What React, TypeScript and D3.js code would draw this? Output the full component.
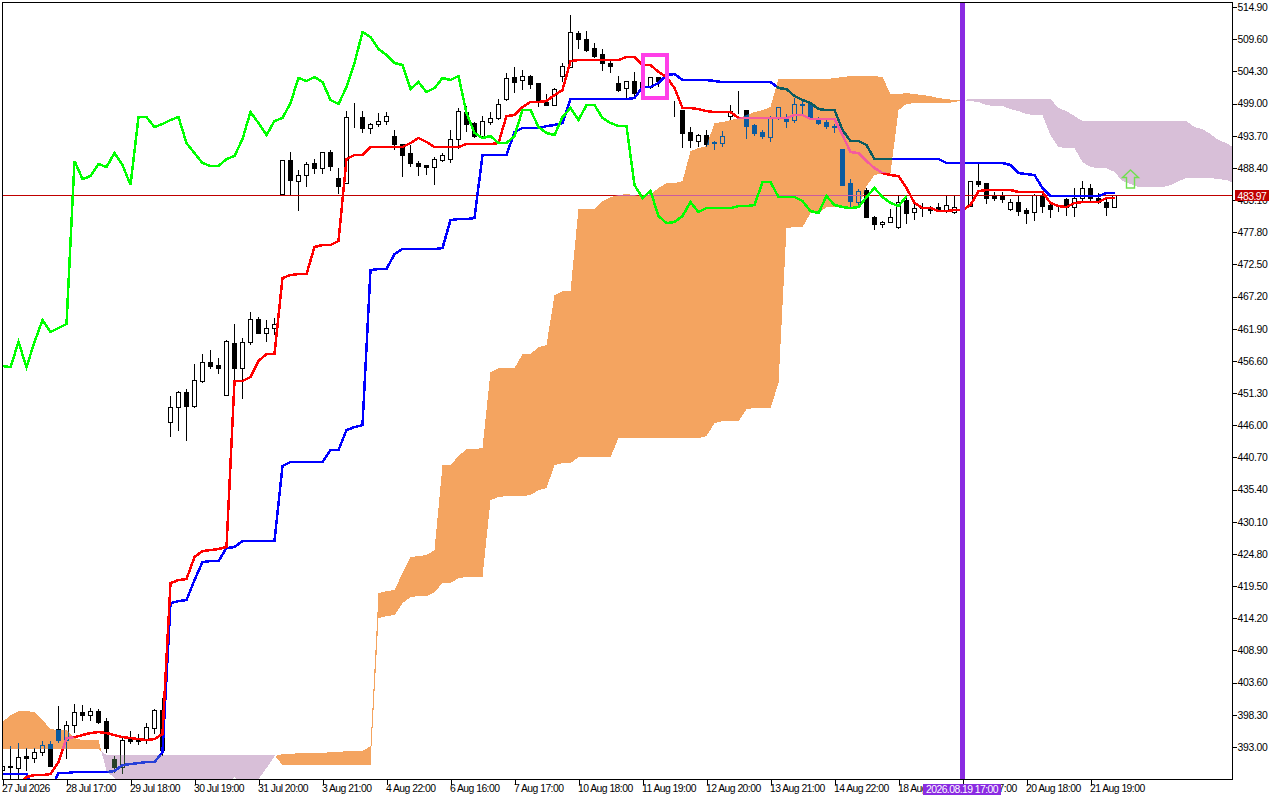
import { useEffect, useRef } from "react";
import * as d3 from "d3";

const opens = [
  389.2,389.86,389.53,391.5,391.18,392.17,393.48,395.95,394.14,396.61,
  398.76,398.26,398.92,397.27,391.01,389.69,394.31,394.31,394.31,396.12,
  399.09,446.53,449.0,451.47,449.17,453.28,456.41,455.92,450.98,459.54,
  455.43,459.71,463.5,461.19,462.01,484.09,489.69,486.23,487.22,489.2,
  488.37,491.01,486.72,485.9,496.75,496.77,494.96,495.62,496.12,493.65,
  492.33,490.84,489.2,488.87,488.54,489.69,489.86,493.15,497.6,495.79,
  493.65,495.95,496.61,499.74,503.36,502.87,503.53,502.38,499.25,498.75,
  503.53,505.01,510.61,509.63,508.14,507.15,505.67,502.38,501.55,502.71,
  501.5,501.72,503.36,503.5,497.6,497.93,494.3,492.82,493.81,492.66,
  492.49,496.94,497.76,497.93,495.46,494.3,493.48,496.61,496.61,496.28,
  498.92,498.92,496.61,495.95,495.29,491.5,485.9,482.77,484.75,480.3,
  479.15,479.48,478.65,483.1,481.12,481.95,481.78,481.95,481.45,481.12,
  481.1,482.11,486.23,485.9,483.76,483.92,481.62,482.77,481.45,481.12,
  483.76,482.28,481.76,483.27,481.95,483.43,485.08,483.43,482.77,481.95,
];
const closes = [
  389.86,389.69,391.34,391.18,392.17,393.32,389.86,394.14,396.61,398.76,
  398.26,398.92,397.11,392.82,389.69,394.14,393.98,393.98,396.28,399.09,
  392.49,449.0,451.47,449.17,453.45,456.41,455.75,455.43,459.87,455.43,
  459.71,463.5,461.19,462.01,462.67,489.69,486.4,487.22,489.03,488.37,
  491.01,488.7,485.41,496.77,496.77,494.96,495.62,496.12,496.94,492.33,
  490.51,489.2,488.7,488.54,489.86,490.51,493.15,497.76,495.62,493.65,
  496.12,496.61,498.92,503.2,502.54,503.53,502.21,499.25,498.75,501.39,
  505.18,510.78,509.63,507.81,506.82,505.67,505.18,501.22,502.71,500.73,
  502.5,503.36,502.71,503.86,497.62,494.14,492.99,493.81,492.33,492.49,
  493.65,497.76,497.78,495.29,494.14,493.65,496.61,498.42,496.12,498.92,
  498.75,496.61,495.79,495.29,495.13,485.57,482.94,484.58,480.3,479.15,
  479.48,480.3,482.77,480.96,481.78,481.78,481.45,481.62,482.28,481.95,
  481.78,486.23,485.74,483.43,483.43,483.27,482.77,481.29,480.96,483.92,
  482.11,481.62,481.78,481.95,483.43,485.08,483.43,482.77,481.95,483.92,
];
const highs = [
  390.02,393.32,393.81,392.99,392.99,394.14,394.14,399.91,397.44,400.24,
  400.08,399.58,399.42,397.93,391.67,394.64,395.79,395.3,397.11,399.42,
  401.23,450.98,451.8,452.13,456.25,457.9,458.56,457.24,460.2,462.84,
  460.53,464.82,463.99,463.5,463.83,489.86,491.17,488.21,489.53,490.02,
  491.17,491.5,488.54,497.93,499.25,497.93,495.95,497.6,497.76,494.8,
  492.49,492.33,489.69,489.03,490.35,491.01,494.8,498.42,498.75,496.12,
  497.1,497.76,499.9,504.19,505.18,504.68,503.86,502.38,500.73,501.72,
  505.84,513.74,511.11,511.11,509.13,508.14,506.17,503.69,502.71,504.35,
  503.0,503.53,503.53,504.0,499.58,497.93,495.29,494.14,494.8,492.99,
  494.63,498.92,501.22,497.93,495.79,494.8,497.1,498.42,497.43,500.07,
  499.9,499.25,496.94,496.45,495.79,491.5,486.72,485.08,485.24,480.63,
  479.81,481.78,484.09,483.76,482.77,482.77,482.28,482.77,483.92,483.92,
  482.3,486.23,489.2,485.9,484.58,484.58,483.43,484.09,481.95,484.25,
  484.25,483.1,482.28,483.59,485.24,486.4,485.9,484.42,483.59,484.09,
];
const lows = [
  389.04,387.88,387.88,389.2,390.52,391.67,389.86,393.81,391.18,395.46,
  397.44,397.44,396.94,392.17,388.87,388.71,393.65,393.48,393.65,395.3,
  391.67,444.22,445.21,443.56,449.0,453.12,455.43,454.6,450.98,451.14,
  450.49,459.38,461.19,459.87,461.02,483.92,483.92,481.45,485.41,487.55,
  487.55,488.04,484.25,485.9,495.13,494.3,494.14,495.29,495.62,491.5,
  487.05,488.7,487.22,487.38,485.74,489.53,489.36,491.67,494.47,493.48,
  493.48,495.62,496.45,499.58,500.89,501.39,501.55,498.59,498.75,498.75,
  502.71,505.01,508.14,507.65,506.66,504.52,504.19,501.06,499.9,500.4,
  501.0,501.55,501.88,503.3,496.94,491.83,491.83,492.0,492.0,491.5,
  492.0,496.45,497.43,493.32,493.81,493.32,492.82,496.45,495.13,495.95,
  497.1,496.61,495.62,494.96,494.3,485.57,481.95,481.95,480.3,478.33,
  478.65,479.48,478.49,479.31,479.97,480.47,480.96,481.29,481.12,480.96,
  480.9,482.11,485.41,482.61,483.1,482.77,481.45,480.63,479.31,479.81,
  481.12,480.3,481.29,480.63,480.47,483.1,482.77,482.61,480.63,481.95,
];

const tenkan = [
  384.26,385.08,386.73,388.05,388.38,388.38,388.54,390.52,394.47,394.64,
  394.97,395.3,395.46,395.3,394.97,394.64,394.47,394.31,394.14,394.31,
  395.13,420.0,420.5,420.67,424.29,425.28,425.44,425.61,425.94,453.28,
  453.28,453.94,456.58,457.73,457.73,470.25,470.75,470.91,470.91,475.36,
  475.69,475.69,476.35,489.86,490.51,490.51,491.83,491.83,491.83,491.83,
  491.83,492.49,493.32,492.66,491.83,491.83,491.83,491.83,492.33,492.33,
  492.33,492.33,492.49,496.94,497.1,498.42,499.25,499.25,499.41,500.4,
  501.22,506.0,506.17,506.17,506.17,506.17,506.17,506.17,506.66,506.66,
  505.34,505.34,504.19,503.36,501.55,498.26,498.26,498.09,497.76,497.6,
  497.6,497.6,496.61,496.61,496.61,496.61,496.61,496.61,496.61,497.1,
  497.1,496.45,496.45,496.45,496.45,493.81,491.01,490.84,489.53,488.37,
  487.55,487.22,487.05,485.08,482.61,481.78,481.78,481.29,481.29,481.45,
  481.45,482.28,484.58,484.75,484.75,484.75,484.75,484.42,484.42,484.42,
  484.42,482.61,482.11,481.95,482.61,482.77,482.77,482.77,483.43,483.43,
];
const kijun = [
  388.54,388.54,388.54,388.54,385.9,385.9,385.9,388.71,388.71,388.87,
  388.87,388.87,388.87,388.87,389.04,390.02,390.19,390.35,390.52,390.52,
  392.17,416.71,417.04,417.21,420.5,423.47,423.63,423.63,425.77,425.94,
  426.93,426.93,426.93,426.93,426.93,439.28,439.94,439.94,439.94,439.94,
  439.94,441.92,441.92,445.21,445.7,446.03,471.57,471.73,471.73,474.2,
  475.03,475.03,475.03,475.03,475.03,475.19,479.81,479.97,479.97,480.14,
  490.51,490.51,490.51,490.51,494.3,494.96,494.96,494.96,495.29,495.46,
  495.79,499.74,499.74,499.74,499.74,499.74,499.74,499.74,499.74,499.9,
  501.72,501.72,502.38,503.69,503.86,502.87,502.87,502.87,502.87,502.71,
  502.54,502.54,502.54,502.54,502.54,502.54,502.54,501.55,501.39,500.23,
  499.58,499.08,498.09,497.93,497.93,494.63,492.82,492.82,492.16,489.86,
  489.86,489.86,489.86,489.86,489.86,489.86,489.86,489.86,489.2,489.2,
  489.2,489.2,489.2,489.2,489.2,489.2,488.87,487.55,487.38,487.22,
  485.08,483.76,483.76,483.76,483.76,483.76,483.76,483.76,484.25,484.25,
];
const chikou = [
  455.75,455.59,459.71,455.59,459.71,463.33,461.36,462.01,462.67,489.53,
  486.56,487.05,489.03,488.54,490.84,488.87,485.57,496.77,496.77,495.13,
  495.62,496.28,496.77,492.49,490.84,489.2,488.7,488.7,489.86,490.35,
  493.15,497.6,495.79,493.81,496.12,496.61,499.08,503.2,502.71,503.36,
  502.54,499.58,498.92,501.72,505.67,510.78,509.95,507.98,506.99,505.67,
  505.34,501.39,502.54,500.89,501.55,503.2,502.87,503.53,497.43,494.14,
  493.32,493.65,492.49,492.49,493.65,497.93,497.93,495.13,494.14,493.81,
  496.77,498.26,496.28,498.75,498.75,496.61,495.79,495.29,495.29,485.57,
  483.43,484.58,480.47,479.31,479.48,480.47,482.77,481.12,481.78,481.78,
  481.78,481.78,482.11,482.11,482.28,486.07,486.07,483.59,483.59,483.59,
  482.94,481.29,480.96,483.76,482.28,481.95,481.78,481.95,483.59,485.08,
  483.59,482.61,482.11,483.76,
];
const senkouA = [
  397.11,398.26,398.92,398.92,398.76,397.44,395.95,395.79,395.79,394.47,
  394.14,394.14,394.14,389.04,387.88,386.73,386.73,386.73,386.73,386.73,
  386.73,386.73,386.73,386.73,386.73,386.73,386.73,386.73,386.73,388.05,
  386.73,386.73,387.72,389.53,391.51,391.84,391.84,392.0,392.0,392.0,
  392.0,392.17,392.17,392.33,392.33,392.33,393.16,418.36,418.69,418.85,
  421.65,424.29,424.46,424.62,425.44,439.45,439.45,440.93,442.08,442.08,
  442.25,454.77,455.43,455.43,455.43,457.73,457.73,458.89,459.22,467.45,
  468.11,468.11,481.62,481.62,481.62,482.94,483.59,483.92,484.09,483.92,
  483.59,484.09,485.08,485.9,485.9,486.23,491.17,491.67,492.0,495.79,
  495.95,496.28,496.61,497.1,497.6,497.93,498.42,503.04,503.04,503.04,
  503.04,503.04,503.04,503.04,503.2,503.36,503.53,503.53,503.53,503.53,
  503.36,500.56,500.56,500.73,500.56,500.4,500.23,499.9,499.74,499.58,
  499.58,499.41,499.25,498.75,498.59,498.59,498.09,497.76,497.27,497.1,
  497.1,493.81,491.83,491.67,491.67,489.36,488.54,488.37,488.37,487.72,
  486.23,485.74,485.24,485.24,485.24,485.24,485.57,486.23,486.72,486.72,
  486.72,486.72,486.56,486.4,485.9,
];
const senkouB = [
  392.66,392.66,392.66,392.66,392.66,392.66,392.66,392.66,392.66,392.66,
  392.66,392.66,392.66,391.67,391.67,391.67,391.67,391.67,391.67,391.67,
  391.67,391.67,391.67,391.67,391.67,391.67,391.67,391.67,391.67,391.67,
  391.67,391.67,391.67,391.67,391.67,390.02,390.02,390.02,390.02,390.02,
  390.02,390.02,390.02,390.02,390.02,390.02,390.02,414.24,414.57,414.73,
  416.71,417.7,417.86,417.86,418.52,420.0,420.0,420.83,421.0,421.0,
  421.0,433.68,434.18,434.34,434.34,434.34,434.5,435.33,435.66,439.45,
  439.78,439.78,440.76,440.76,440.76,440.76,440.76,443.89,443.89,443.89,
  443.89,443.89,443.89,443.89,443.89,443.89,443.89,443.89,444.22,446.36,
  446.69,446.69,446.69,448.67,448.84,448.84,448.84,452.95,478.49,478.65,
  478.65,480.96,480.96,481.95,481.95,481.95,481.95,481.95,485.41,487.22,
  487.55,487.55,497.93,498.92,499.08,499.08,499.08,499.08,499.08,499.25,
  499.58,499.74,499.74,499.74,499.74,499.74,499.74,499.74,499.74,499.74,
  499.74,499.74,498.26,497.76,496.94,496.12,496.12,496.12,496.12,496.12,
  496.12,496.12,496.12,496.12,496.12,496.12,496.12,496.12,496.12,495.13,
  494.8,493.97,492.99,492.49,491.67,
];

const priceTicks = [
  514.9,509.6,504.3,499.0,493.7,488.4,483.1,477.8,472.5,467.2,461.9,456.6,
  451.3,446.0,440.7,435.4,430.1,424.8,419.5,414.2,408.9,403.6,398.3,393.0,
];
const timeTickBars = [0,8,16,24,32,40,48,56,64,72,80,88,96,104,112,120,128,136];
const timeLabels = [
  "27 Jul 2026","28 Jul 17:00","29 Jul 18:00","30 Jul 19:00","31 Jul 20:00","3 Aug 21:00",
  "4 Aug 22:00","6 Aug 16:00","7 Aug 17:00","10 Aug 18:00","11 Aug 19:00","12 Aug 20:00",
  "13 Aug 21:00","14 Aug 22:00","18 Aug 16:00","19 Aug 17:00","20 Aug 18:00","21 Aug 19:00",
];

const lastPrice = 483.97;
const cursorBar = 120;
const cursorLabel = "2026.08.19 17:00";
const boxBars = [80, 83];
const boxPrices = [506.99, 499.99];
const arrowBar = 141;
const arrowPrice = 488.04;

const FONT = '"Liberation Sans", sans-serif';

// xor-style colours: what each colour turns into on top of the cloud
const plain = { dark: "#000000", body: "#ffffff", red: "#ff0000", blue: "#0000ff", last: "#c00000" };
const onBull = { dark: "#0b5b9f", body: "#f4a460", red: "#f45b9f", blue: "#0b5b60", last: "#cb5b9f" };
const onBear = { dark: "#274027", body: "#d8bfd8", red: "#d84027", blue: "#2740d8", last: "#e74027" };

type CloudPt = { i: number; a: number; b: number };

const App = () => {
  const ref = useRef<SVGSVGElement>(null);

  useEffect(() => {
    if (!ref.current) return;
    const svg = d3.select(ref.current);
    svg.selectAll("*").remove();

    const left = 2;
    const right = 1232;
    const top = 2;
    const bottom = 779;

    const x = d3.scaleLinear().domain([0, 8]).range([2.5, 66.5]);
    const y = d3.scaleLinear().domain([514.9, 393]).range([7, 747]);
    const snap = (v: number) => Math.round(y(v)) + 0.5;

    const defs = svg.append("defs");
    defs
      .append("clipPath")
      .attr("id", "plot")
      .append("rect")
      .attr("x", left)
      .attr("y", top)
      .attr("width", right - left)
      .attr("height", bottom - top);

    // cloud with the crossing points added so both colours meet cleanly
    const cloudPts: CloudPt[] = [];
    senkouA.forEach((a, i) => {
      const b = senkouB[i];
      cloudPts.push({ i, a, b });
      if (i < senkouA.length - 1) {
        const d0 = a - b;
        const d1 = senkouA[i + 1] - senkouB[i + 1];
        if (d0 * d1 < 0) {
          const t = d0 / (d0 - d1);
          const c = a + (senkouA[i + 1] - a) * t;
          cloudPts.push({ i: i + t, a: c, b: c });
        }
      }
    });
    const cloudArea = d3
      .area<CloudPt>()
      .x((d) => x(d.i))
      .y0((d) => y(d.b))
      .y1((d) => y(d.a));
    const bullPath = cloudArea.defined((d) => d.a >= d.b)(cloudPts) as string;
    const bearPath = cloudArea.defined((d) => d.a <= d.b)(cloudPts) as string;

    defs.append("clipPath").attr("id", "bull").append("path").attr("d", bullPath);
    defs.append("clipPath").attr("id", "bear").append("path").attr("d", bearPath);

    const plot = svg.append("g").attr("clip-path", "url(#plot)");
    plot.append("path").attr("d", bullPath).attr("fill", "#f4a460").attr("shape-rendering", "crispEdges");
    plot.append("path").attr("d", bearPath).attr("fill", "#d8bfd8").attr("shape-rendering", "crispEdges");

    const lineGen = d3
      .line<number>()
      .x((_d, i) => x(i))
      .y((d) => y(d));

    const drawPrices = (g: d3.Selection<SVGGElement, unknown, null, undefined>, c: typeof plain) => {
      const bars = g.append("g").attr("shape-rendering", "crispEdges");
      const candle = bars
        .selectAll("g")
        .data(d3.range(opens.length))
        .enter()
        .append("g");
      candle
        .append("line")
        .attr("x1", (i) => x(i))
        .attr("x2", (i) => x(i))
        .attr("y1", (i) => snap(highs[i]))
        .attr("y2", (i) => snap(lows[i]))
        .attr("stroke", c.dark);
      candle
        .append("rect")
        .attr("x", (i) => x(i) - 2)
        .attr("width", 4)
        .attr("y", (i) => snap(Math.max(opens[i], closes[i])))
        .attr("height", (i) => snap(Math.min(opens[i], closes[i])) - snap(Math.max(opens[i], closes[i])))
        .attr("fill", (i) => (closes[i] >= opens[i] ? c.body : c.dark))
        .attr("stroke", c.dark);

      g.append("line")
        .attr("x1", left)
        .attr("x2", right)
        .attr("y1", snap(lastPrice))
        .attr("y2", snap(lastPrice))
        .attr("stroke", c.last)
        .attr("shape-rendering", "crispEdges");

      g.append("path")
        .attr("d", lineGen(kijun) as string)
        .attr("fill", "none")
        .attr("stroke", c.blue)
        .attr("stroke-width", 2.5)
        .attr("shape-rendering", "crispEdges");
      g.append("path")
        .attr("d", lineGen(tenkan) as string)
        .attr("fill", "none")
        .attr("stroke", c.red)
        .attr("stroke-width", 2.5)
        .attr("shape-rendering", "crispEdges");
    };

    drawPrices(plot.append("g"), plain);
    drawPrices(plot.append("g").attr("clip-path", "url(#bull)"), onBull);
    drawPrices(plot.append("g").attr("clip-path", "url(#bear)"), onBear);

    plot
      .append("path")
      .attr("d", lineGen(chikou) as string)
      .attr("fill", "none")
      .attr("stroke", "#00ff00")
      .attr("stroke-width", 2.5)
      .attr("shape-rendering", "crispEdges");

    // selection box
    plot
      .append("rect")
      .attr("x", x(boxBars[0]))
      .attr("y", y(boxPrices[0]))
      .attr("width", x(boxBars[1]) - x(boxBars[0]))
      .attr("height", y(boxPrices[1]) - y(boxPrices[0]))
      .attr("fill", "none")
      .attr("stroke", "#ff3fe8")
      .attr("stroke-width", 4)
      .attr("shape-rendering", "crispEdges");

    // buy arrow
    const ax = x(arrowBar);
    const ay = y(arrowPrice);
    const arrow = d3.path();
    arrow.moveTo(ax, ay);
    arrow.lineTo(ax + 8, ay + 7.5);
    arrow.lineTo(ax + 4, ay + 7.5);
    arrow.lineTo(ax + 4, ay + 18);
    arrow.lineTo(ax - 4, ay + 18);
    arrow.lineTo(ax - 4, ay + 7.5);
    arrow.lineTo(ax - 8, ay + 7.5);
    arrow.closePath();
    plot
      .append("path")
      .attr("d", arrow.toString())
      .attr("fill", "none")
      .attr("stroke", "#6fe04f")
      .attr("stroke-width", 1.4);

    // vertical marker
    plot
      .append("line")
      .attr("x1", x(cursorBar))
      .attr("x2", x(cursorBar))
      .attr("y1", top)
      .attr("y2", bottom)
      .attr("stroke", "#8a2be2")
      .attr("stroke-width", 5)
      .attr("shape-rendering", "crispEdges");

    // frame
    svg
      .append("rect")
      .attr("x", left + 0.5)
      .attr("y", top + 0.5)
      .attr("width", right - left)
      .attr("height", bottom - top)
      .attr("fill", "none")
      .attr("stroke", "#000")
      .attr("shape-rendering", "crispEdges");

    // axes
    const yAxis = svg
      .append("g")
      .attr("transform", `translate(${right + 0.5},0)`)
      .call(
        d3
          .axisRight(y)
          .tickValues(priceTicks)
          .tickSize(4)
          .tickPadding(1)
          .tickFormat((d) => d3.format(".2f")(d as number))
      );
    yAxis.select(".domain").remove();
    yAxis.selectAll("text").attr("letter-spacing", -0.3);

    const xAxis = svg
      .append("g")
      .attr("transform", `translate(0,${bottom + 0.5})`)
      .call(
        d3
          .axisBottom(x)
          .tickValues(timeTickBars)
          .tickSize(5)
          .tickFormat((_d, i) => timeLabels[i])
      );
    xAxis.select(".domain").remove();
    xAxis
      .selectAll("text")
      .attr("text-anchor", "start")
      .attr("y", 5)
      .attr("dy", "0.71em")
      .attr("dx", -1)
      .attr("letter-spacing", -0.55);

    svg.selectAll(".tick line").attr("shape-rendering", "crispEdges").attr("stroke", "#000");
    svg
      .selectAll(".tick text")
      .attr("font-family", FONT)
      .attr("font-size", 10.4)
      .attr("fill", "#000");

    // last price tag
    svg
      .append("rect")
      .attr("x", 1235)
      .attr("y", snap(lastPrice) - 5.5)
      .attr("width", 34)
      .attr("height", 11)
      .attr("fill", "#c00000");
    svg
      .append("text")
      .attr("x", 1252)
      .attr("y", snap(lastPrice) + 4)
      .attr("text-anchor", "middle")
      .attr("font-family", FONT)
      .attr("font-size", 10.4)
      .attr("letter-spacing", -0.5)
      .attr("fill", "#fff")
      .text(d3.format(".2f")(lastPrice));

    // date of the marker
    svg
      .append("rect")
      .attr("x", x(cursorBar) - 39.5)
      .attr("y", bottom + 5)
      .attr("width", 78)
      .attr("height", 11)
      .attr("fill", "#8a2be2");
    svg
      .append("text")
      .attr("x", x(cursorBar) - 0.5)
      .attr("y", bottom + 14)
      .attr("text-anchor", "middle")
      .attr("font-family", FONT)
      .attr("font-size", 10.4)
      .attr("letter-spacing", -0.55)
      .attr("fill", "#fff")
      .text(cursorLabel);
  }, []);

  return (
    <svg
      ref={ref}
      width={1280}
      height={800}
      style={{ position: "absolute", left: 0, top: 0, background: "#fff" }}
    ></svg>
  );
};

export default App;
